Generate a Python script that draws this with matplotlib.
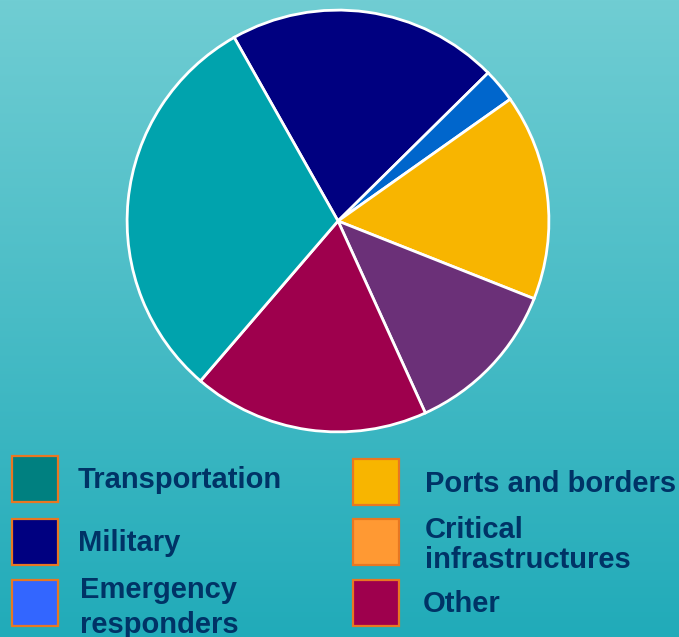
import numpy as np
import matplotlib
matplotlib.use('Agg')
import matplotlib.pyplot as plt
from matplotlib.patches import Rectangle
from matplotlib.colors import LinearSegmentedColormap

plt.rcParams['font.family'] = ['Liberation Sans', 'DejaVu Sans']

# pie slices, clockwise from the top-left edge
slice_names = ['Military', 'Emergency responders', 'Ports and borders',
               'Critical infrastructures', 'Other', 'Transportation']
slice_values = [20.8, 2.6, 15.8, 12.2, 18.1, 30.5]
slice_colors = ['#000080', '#0066CC', '#F8B500', '#6B3078', '#9E004D', '#00A3AD']

# legend entries (two columns); each entry is a list of text lines
legend_left = [['Transportation'], ['Military'], ['Emergency', 'responders']]
legend_left_colors = ['#008080', '#000080', '#3366FF']
legend_right = [['Ports and borders'], ['Critical', 'infrastructures'], ['Other']]
legend_right_colors = ['#F8B500', '#FF9933', '#9E004D']

W, H = 679, 637
fig = plt.figure(figsize=(W / 100, H / 100), dpi=100)

# gradient background, also used as a pixel canvas for the legend
bg = fig.add_axes([0, 0, 1, 1])
cmap = LinearSegmentedColormap.from_list('bg', ['#70CDD3', '#21ABB9'])
grad = np.linspace(0, 1, 256).reshape(-1, 1)
bg.imshow(grad, cmap=cmap, aspect='auto', extent=[0, W, H, 0])
bg.set_xlim(0, W)
bg.set_ylim(H, 0)
bg.axis('off')

text_color = '#003366'
edge_color = '#E87722'
sq = 46

# (box x, box tops, text x, text baselines per entry)
columns = [
    (12, [456, 519, 580], [78, 78, 80], [[488], [551], [598, 633]], legend_left, legend_left_colors),
    (353, [459, 519, 580], [425, 425, 423], [[492], [538, 568], [612]], legend_right, legend_right_colors),
]
for bx, tops, txs, baselines, entries, cols in columns:
    for ytop, tx, bls, lines, col in zip(tops, txs, baselines, entries, cols):
        bg.add_patch(Rectangle((bx, ytop), sq, sq, facecolor=col, edgecolor=edge_color, lw=1.6))
        for line, bl in zip(lines, bls):
            bg.text(tx, bl, line, color=text_color, fontsize=21, fontweight='bold',
                    va='baseline', ha='left')

# pie
cx, cy, r = 338, 221, 213
ax = fig.add_axes([(cx - r) / W, (H - cy - r) / H, 2 * r / W, 2 * r / H])
ax.pie(slice_values, colors=slice_colors, startangle=119.5, counterclock=False,
       wedgeprops=dict(edgecolor='white', linewidth=2))
ax.set_xlim(-1.01, 1.01)
ax.set_ylim(-1.01, 1.01)
ax.set_aspect('equal')
ax.axis('off')

fig.savefig('out.png', dpi=100)
